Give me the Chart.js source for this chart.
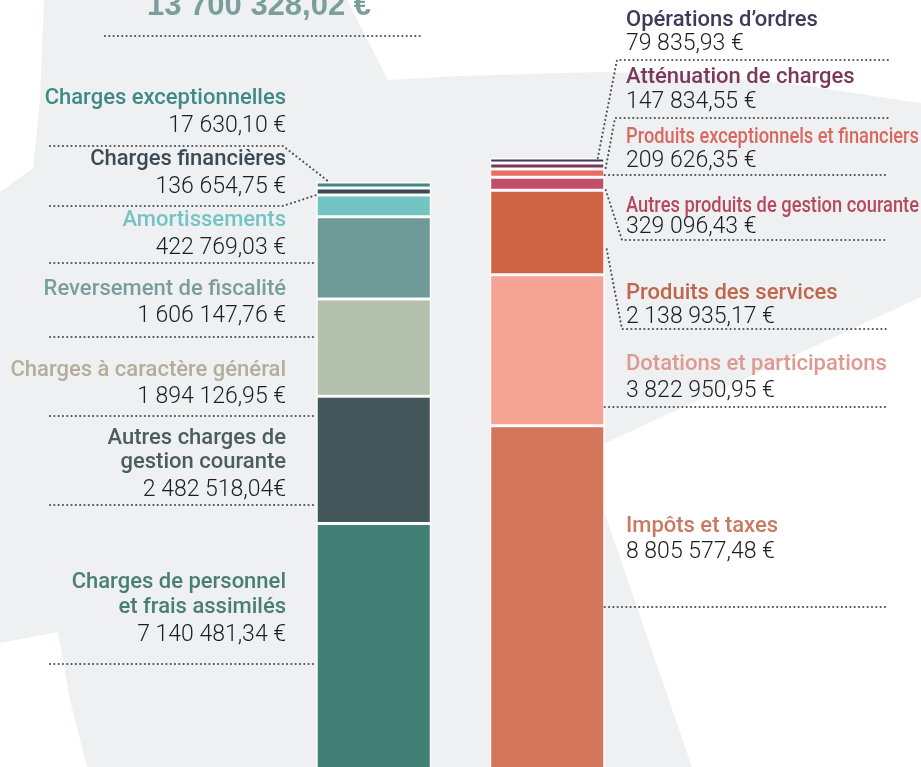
<!DOCTYPE html>
<html lang="fr">
<head>
<meta charset="utf-8">
<title>Dépenses et recettes de fonctionnement</title>
<script src="https://cdn.jsdelivr.net/npm/chart.js@4.4.1/dist/chart.umd.min.js"></script>
<style>
  html, body { margin: 0; padding: 0; background: #fff; }
  #wrap { position: relative; width: 921px; height: 767px; }
</style>
</head>
<body>
<div id="wrap"><canvas id="budgetChart"></canvas></div>
<script>
// Colonnes
const columns = ['Dépenses', 'Recettes'];
const totalDepenses = 13700328.02;

// Dépenses, du bas de la pile vers le haut
const depNames = [
  ['Charges de personnel', 'et frais assimilés'],
  ['Autres charges de', 'gestion courante'],
  ['Charges à caractère général'],
  ['Reversement de fiscalité'],
  ['Amortissements'],
  ['Charges financières'],
  ['Charges exceptionnelles']
];
const depValues = [7140481.34, 2482518.04, 1894126.95, 1606147.76, 422769.03, 136654.75, 17630.10];

// Recettes, du bas de la pile vers le haut
const recNames = [
  ['Impôts et taxes'],
  ['Dotations et participations'],
  ['Produits des services'],
  ['Autres produits de gestion courante'],
  ['Produits exceptionnels et financiers'],
  ['Atténuation de charges'],
  ['Opérations d’ordres']
];
const recValues = [8805577.48, 3822950.95, 2138935.17, 329096.43, 209626.35, 147834.55, 79835.93];

// Couleurs
const depColors = ['#427f74', '#43565a', '#b4c1ae', '#6e9b98', '#74c4c3', '#3b4b55', '#3f8a85'];
const depTextColors = ['#4a7f70', '#4b5d60', '#b3ad99', '#7a9e9b', '#74c4c3', '#3b4b55', '#3f8a85'];
const recColors = ['#d4765a', '#f5a393', '#cf6444', '#c24d66', '#ea6e60', '#7c3a5a', '#44385a'];
const recTextColors = ['#c97a63', '#dd9a8f', '#c0664a', '#b54a5e', '#d9695f', '#7c3a5a', '#44385a'];

// Position des étiquettes (lignes de base) et des séparateurs pointillés
const depLayout = [
  { y: [588, 613], vy: 641, line: 664 },
  { y: [444, 468], vy: 496, line: 505, tight: true },
  { y: [376], vy: 403, line: 416 },
  { y: [295], vy: 322, line: 337 },
  { y: [226], vy: 254, line: 263 },
  { y: [165], vy: 193, line: 206 },
  { y: [104], vy: 132, line: 146 }
];
const recLayout = [
  { y: [532], vy: 558, line: 607 },
  { y: [370], vy: 397, line: 407 },
  { y: [299], vy: 323, line: 329 },
  { y: [212], vy: 233, line: 240 },
  { y: [143], vy: 167, line: 175 },
  { y: [83], vy: 108, line: 118 },
  { y: [26], vy: 50, line: 60 }
];

const NAME_FONT = '500 22px Roboto, "Liberation Sans", sans-serif';
const VALUE_FONT = '300 23px Roboto, "Liberation Sans", sans-serif';

function euros(v, tight) {
  const parts = v.toFixed(2).split('.');
  const ent = parts[0].replace(/\B(?=(\d{3})+(?!\d))/g, ' ');
  return ent + ',' + parts[1] + (tight ? '€' : ' €');
}

function poly(ctx, pts) {
  ctx.beginPath();
  ctx.moveTo(pts[0][0], pts[0][1]);
  for (let i = 1; i < pts.length; i++) ctx.lineTo(pts[i][0], pts[i][1]);
  ctx.closePath();
  ctx.fill();
}

function dotted(ctx, pts) {
  ctx.beginPath();
  ctx.moveTo(pts[0][0], pts[0][1]);
  for (let i = 1; i < pts.length; i++) ctx.lineTo(pts[i][0], pts[i][1]);
  ctx.stroke();
}

// Fond gris clair avec ses découpes blanches
const backgroundPlugin = {
  id: 'background',
  beforeDraw(chart) {
    const ctx = chart.ctx;
    ctx.save();
    ctx.fillStyle = '#eff0f2';
    ctx.fillRect(0, 0, chart.width, chart.height);
    ctx.fillStyle = '#ffffff';
    poly(ctx, [[0, 0], [44, 0], [40, 100], [33, 168], [0, 192]]);
    poly(ctx, [[347, 0], [921, 0], [921, 103], [800, 85], [700, 75], [600, 72], [460, 76], [388, 80]]);
    poly(ctx, [[0, 643], [58, 632], [70, 700], [87, 767], [0, 767]]);
    poly(ctx, [[584, 453], [921, 297], [921, 767], [692, 767]]);
    ctx.restore();
  }
};

// Étiquettes, montants et traits pointillés
const labelsPlugin = {
  id: 'labels',
  afterDatasetsDraw(chart) {
    const ctx = chart.ctx;
    const nDep = depValues.length;
    const depEls = depValues.map((v, i) => chart.getDatasetMeta(i).data[0]);
    const recEls = recValues.map((v, i) => chart.getDatasetMeta(nDep + i).data[1]);
    const barLeft = depEls[0].x - depEls[0].width / 2;
    const barRight = recEls[0].x + recEls[0].width / 2;

    ctx.save();
    // titre (coupé en haut)
    ctx.fillStyle = '#7a9e9b';
    ctx.font = 'bold 31px "Liberation Sans", Arial, sans-serif';
    ctx.textAlign = 'center';
    ctx.textBaseline = 'alphabetic';
    ctx.fillText(euros(totalDepenses), 259, 15);

    // pointillés
    ctx.strokeStyle = '#4a5359';
    ctx.lineWidth = 2.2;
    ctx.lineCap = 'round';
    ctx.setLineDash([0.01, 4.3]);
    dotted(ctx, [[105, 36], [420, 36]]);

    depLayout.forEach((lay, i) => {
      const el = depEls[i];
      if (i === 6) {
        dotted(ctx, [[50, lay.line], [283, lay.line], [barLeft + 13, el.y]]);
      } else if (i === 5) {
        dotted(ctx, [[50, lay.line], [283, lay.line], [barLeft, el.base]]);
      } else {
        dotted(ctx, [[50, lay.line], [barLeft, lay.line]]);
      }
    });

    recLayout.forEach((lay, i) => {
      const el = recEls[i];
      if (i === 6) {
        dotted(ctx, [[barRight - 7, el.y], [617, lay.line], [888, lay.line]]);
      } else if (i === 5) {
        dotted(ctx, [[barRight + 1, el.base - 1], [615, lay.line], [888, lay.line]]);
      } else if (i === 3) {
        dotted(ctx, [[barRight + 1, el.base], [622, lay.line], [888, lay.line]]);
      } else if (i === 2) {
        dotted(ctx, [[barRight + 2, el.y + 0.7 * (el.base - el.y)], [622, lay.line], [888, lay.line]]);
      } else {
        dotted(ctx, [[barRight, lay.line], [888, lay.line]]);
      }
    });
    ctx.setLineDash([]);

    // textes dépenses
    ctx.textAlign = 'right';
    depLayout.forEach((lay, i) => {
      ctx.font = NAME_FONT;
      ctx.fillStyle = depTextColors[i];
      depNames[i].forEach((t, k) => ctx.fillText(t, 286, lay.y[k]));
      ctx.font = VALUE_FONT;
      ctx.fillStyle = '#1d1d1d';
      ctx.fillText(euros(depValues[i], lay.tight), 286, lay.vy);
    });

    // textes recettes
    ctx.textAlign = 'left';
    recLayout.forEach((lay, i) => {
      ctx.font = NAME_FONT;
      ctx.fillStyle = recTextColors[i];
      recNames[i].forEach((t, k) => ctx.fillText(t, 626, lay.y[k], 293));
      ctx.font = VALUE_FONT;
      ctx.fillStyle = '#1d1d1d';
      ctx.fillText(euros(recValues[i]), 626, lay.vy);
    });
    ctx.restore();
  }
};

const barStyle = {
  borderColor: '#ffffff',
  borderWidth: 1.5,
  borderSkipped: false,
  barPercentage: 0.663,
  categoryPercentage: 1,
  skipNull: true,
  stack: 'budget',
  minBarLength: 5
};

const datasets = [];
depValues.forEach((v, i) => {
  datasets.push(Object.assign({}, barStyle, {
    label: depNames[i].join(' '),
    data: [v, null],
    backgroundColor: depColors[i],
    yAxisID: 'yDep',
    minBarLength: i === depValues.length - 1 ? 6 : 5
  }));
});
recValues.forEach((v, i) => {
  datasets.push(Object.assign({}, barStyle, {
    label: recNames[i].join(' '),
    data: [null, v],
    backgroundColor: recColors[i],
    yAxisID: 'yRec'
  }));
});

new Chart(document.getElementById('budgetChart'), {
  type: 'bar',
  data: { labels: columns, datasets: datasets },
  options: {
    responsive: true,
    maintainAspectRatio: false,
    animation: false,
    layout: { padding: { left: 287, right: 287, top: 0, bottom: 0 } },
    scales: {
      x: { display: false, stacked: true },
      yDep: { display: false, stacked: true, bounds: 'data', min: 2390000, max: 17350000 },
      yRec: { display: false, stacked: true, bounds: 'data', min: 170000, max: 19580000 }
    },
    plugins: {
      legend: { display: false },
      tooltip: { enabled: false }
    }
  },
  plugins: [backgroundPlugin, labelsPlugin]
});
</script>
</body>
</html>
